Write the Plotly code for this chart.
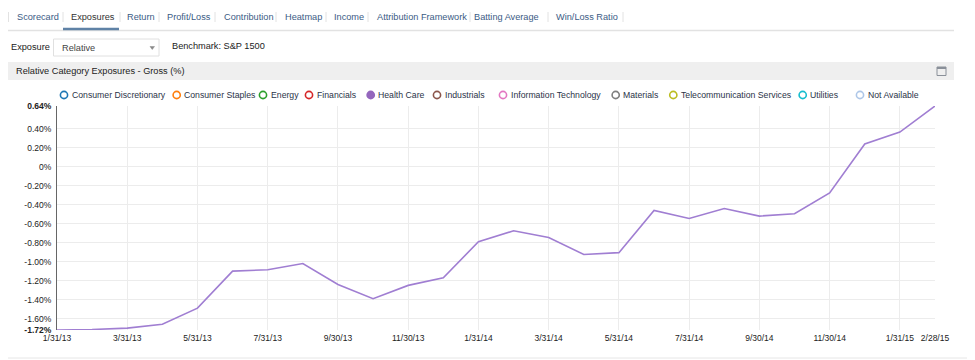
import plotly.graph_objects as go

# ---------------- data ----------------
dates = ["1/31/13", "2/28/13", "3/31/13", "4/30/13", "5/31/13", "6/30/13",
         "7/31/13", "8/31/13", "9/30/13", "10/31/13", "11/30/13", "12/31/13",
         "1/31/14", "2/28/14", "3/31/14", "4/30/14", "5/31/14", "6/30/14",
         "7/31/14", "8/31/14", "9/30/14", "10/31/14", "11/30/14", "12/31/14",
         "1/31/15", "2/28/15"]
health_care = [-1.72, -1.715, -1.70, -1.66, -1.49, -1.10, -1.085, -1.02,
               -1.24, -1.39, -1.25, -1.17, -0.79, -0.675, -0.745, -0.925,
               -0.905, -0.46, -0.545, -0.44, -0.52, -0.495, -0.275, 0.24,
               0.365, 0.64]
categories = ["Consumer Discretionary", "Consumer Staples", "Energy", "Financials",
              "Health Care", "Industrials", "Information Technology", "Materials",
              "Telecommunication Services", "Utilities", "Not Available"]
cat_colors = ["#1f77b4", "#ff7f0e", "#2ca02c", "#d62728", "#9467bd", "#8c564b",
              "#e377c2", "#7f7f7f", "#bcbd22", "#17becf", "#aec7e8"]
active_category = "Health Care"
y_ticks = [-1.72, -1.6, -1.4, -1.2, -1.0, -0.8, -0.6, -0.4, -0.2, 0.0, 0.2, 0.4, 0.64]
tabs = ["Scorecard", "Exposures", "Return", "Profit/Loss", "Contribution", "Heatmap",
        "Income", "Attribution Framework", "Batting Average", "Win/Loss Ratio"]
active_tab = "Exposures"

# ---------------- layout helpers ----------------
W, H = 975, 360
OFF = 8  # page body margin: the figure is drawn 8px right/down in the window
FONT = "Liberation Sans, Arial, sans-serif"


def px(x):
    return (x - OFF) / W


def py(y):
    return 1 - (y - OFF) / H


def fmt(v):
    s = "0%" if abs(v) < 1e-9 else f"{v:.2f}%"
    if v in (y_ticks[0], y_ticks[-1]):
        s = f"<b>{s}</b>"
    return s


fig = go.Figure()
fig.add_trace(go.Scatter(
    x=dates, y=health_care, mode="lines",
    line=dict(color="#a07ed2", width=1.6),
    name=active_category, showlegend=False, hoverinfo="x+y"))

tick_idx = list(range(0, len(dates), 2))
if tick_idx[-1] != len(dates) - 1:
    tick_idx.append(len(dates) - 1)

annotations = []
shapes = []

# tabs
tab_x = [15, 69, 125, 165, 222, 283, 332, 375, 472, 554]
sep_x = [8.5, 63, 120, 159, 215, 276, 326, 368, 470, 548, 623]
for t, x in zip(tabs, tab_x):
    annotations.append(dict(
        text=t, x=px(x), y=py(17), xref="paper", yref="paper",
        xanchor="left", yanchor="middle", showarrow=False,
        font=dict(family=FONT, size=9.2,
                  color="#333333" if t == active_tab else "#3b5b85")))
for x in sep_x:
    shapes.append(dict(type="line", xref="paper", yref="paper",
                       x0=px(x), x1=px(x), y0=py(12), y1=py(22),
                       line=dict(color="#e2e2e2", width=1)))
shapes.append(dict(type="line", xref="paper", yref="paper",
                   x0=px(8), x1=px(954), y0=py(30.5), y1=py(30.5),
                   line=dict(color="#e2e2e2", width=1.5)))
shapes.append(dict(type="line", xref="paper", yref="paper",
                   x0=px(63), x1=px(119), y0=py(29), y1=py(29),
                   line=dict(color="#5f82a6", width=2.5)))

# controls row
annotations.append(dict(text="Exposure", x=px(9), y=py(47), xref="paper", yref="paper",
                        xanchor="left", yanchor="middle", showarrow=False,
                        font=dict(family=FONT, size=9.2, color="#222222")))
shapes.append(dict(type="rect", xref="paper", yref="paper",
                   x0=px(53.5), x1=px(159), y0=py(39), y1=py(56),
                   line=dict(color="#e0e0e0", width=1), fillcolor="white"))
annotations.append(dict(text="Relative", x=px(60), y=py(47.5), xref="paper", yref="paper",
                        xanchor="left", yanchor="middle", showarrow=False,
                        font=dict(family=FONT, size=9.2, color="#444444")))
shapes.append(dict(type="path", xref="paper", yref="paper",
                   path=f"M {px(150)},{py(46.5)} L {px(154.5)},{py(46.5)} L {px(152.25)},{py(49.5)} Z",
                   line=dict(color="#888888", width=0.5), fillcolor="#888888"))
annotations.append(dict(text="Benchmark: S&P 1500", x=px(170), y=py(46.5), xref="paper",
                        yref="paper", xanchor="left", yanchor="middle", showarrow=False,
                        font=dict(family=FONT, size=9.2, color="#222222")))

# panel header
shapes.append(dict(type="rect", xref="paper", yref="paper",
                   x0=px(8), x1=px(954), y0=py(62), y1=py(80),
                   line=dict(width=0), fillcolor="#efefef", layer="below"))
annotations.append(dict(text="Relative Category Exposures - Gross (%)", x=px(13.5), y=py(71),
                        xref="paper", yref="paper", xanchor="left", yanchor="middle",
                        showarrow=False, font=dict(family=FONT, size=9.2, color="#222222")))
shapes.append(dict(type="rect", xref="paper", yref="paper",
                   x0=px(937), x1=px(946), y0=py(67), y1=py(75.5),
                   line=dict(color="#8a9099", width=1), fillcolor="rgba(0,0,0,0)"))
shapes.append(dict(type="rect", xref="paper", yref="paper",
                   x0=px(937), x1=px(946), y0=py(67), y1=py(69),
                   line=dict(width=0), fillcolor="#8a9099"))

# outer frame
shapes.append(dict(type="line", xref="paper", yref="paper",
                   x0=px(973.5), x1=px(973.5), y0=py(8), y1=py(358),
                   line=dict(color="#e6e6e6", width=1)))
shapes.append(dict(type="line", xref="paper", yref="paper",
                   x0=px(8), x1=px(973.5), y0=py(358), y1=py(358),
                   line=dict(color="#e6e6e6", width=1)))

# custom legend
leg_x = [64, 176.7, 263, 309, 370.7, 437, 503, 615.7, 673.3, 802.7, 860]
LY = 95
for c, col, x in zip(categories, cat_colors, leg_x):
    filled = c == active_category
    shapes.append(dict(type="circle", xref="paper", yref="paper",
                       x0=px(x - 3.6), x1=px(x + 3.6), y0=py(LY - 3.6), y1=py(LY + 3.6),
                       line=dict(color=col, width=1.6),
                       fillcolor=col if filled else "white"))
    annotations.append(dict(text=c, x=px(x + 5.5), y=py(LY), xref="paper", yref="paper",
                            xanchor="left", yanchor="middle", showarrow=False,
                            font=dict(family=FONT, size=8.7, color="#2a3348")))

fig.update_layout(
    width=W, height=H,
    margin=dict(l=0, r=0, t=0, b=0, autoexpand=False),
    paper_bgcolor="white", plot_bgcolor="white",
    showlegend=False,
    annotations=annotations, shapes=shapes,
    xaxis=dict(
        domain=[px(57), px(935)],
        type="category", range=[0, len(dates) - 1],
        tickmode="array",
        tickvals=[dates[i] for i in tick_idx],
        ticktext=[dates[i] for i in tick_idx],
        showgrid=True, gridcolor="#ececec", gridwidth=1,
        showline=False, zeroline=False, ticks="",
        tickfont=dict(family=FONT, size=8.5, color="#222222"),
        tickangle=0, automargin=False, ticklabelstandoff=1,
    ),
    yaxis=dict(
        domain=[py(330), py(106)],
        range=[y_ticks[0], y_ticks[-1]],
        tickmode="array", tickvals=y_ticks,
        ticktext=[fmt(v) for v in y_ticks],
        showgrid=True, gridcolor="#ececec", gridwidth=1,
        zeroline=False, showline=True, linecolor="#666666", linewidth=1,
        ticks="", ticklabelstandoff=3, automargin=False,
        tickfont=dict(family=FONT, size=8.5, color="#222222"),
    ),
)

fig.write_html("out.html")
